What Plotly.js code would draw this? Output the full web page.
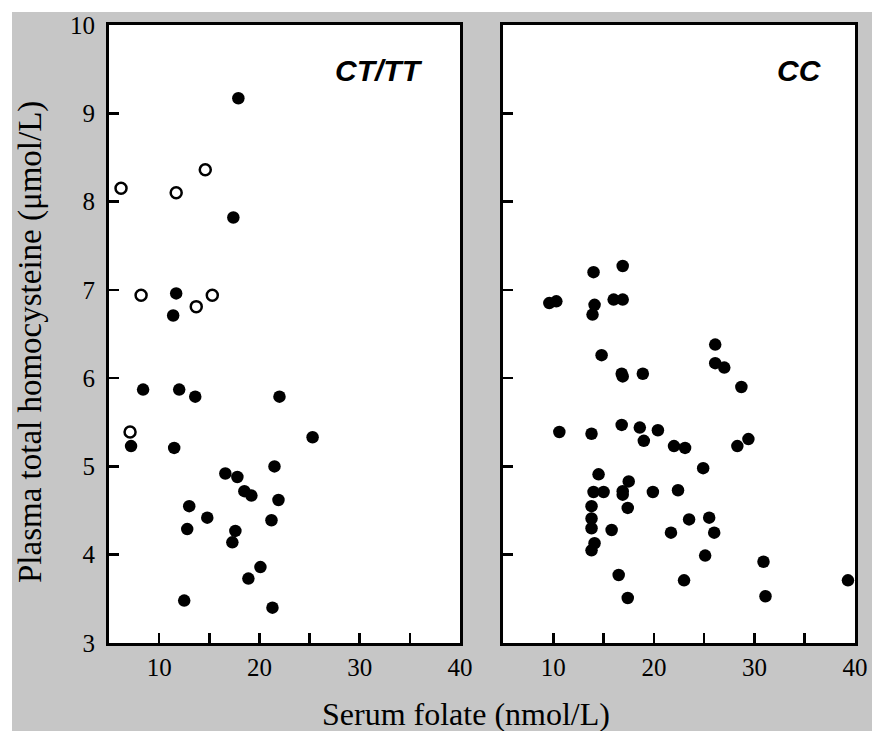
<!DOCTYPE html>
<html>
<head>
<meta charset="utf-8">
<script src="https://cdn.plot.ly/plotly-3.0.1.min.js"></script>
<style>
  html, body { margin: 0; padding: 0; background: #ffffff; width: 872px; height: 731px; overflow: hidden; }
  #bg { position: absolute; left: 12px; top: 12px; width: 860px; height: 719px; background: #c6c6c6; }
  #chart { position: absolute; left: 0px; top: 0px; width: 872px; height: 731px; }
</style>
</head>
<body>
<div id="bg"></div>
<div id="chart"></div>
<script>
// CT/TT panel, filled circles
const ctFilledX = [17.9, 17.4, 11.7, 11.4, 8.4, 12.0, 13.6, 22.0, 7.2, 11.5, 25.3, 21.5, 16.6, 17.8, 18.5, 19.2, 21.9, 13.0, 14.8, 12.8, 21.2, 17.6, 17.3, 20.1, 18.9, 12.5, 21.3];
const ctFilledY = [9.17, 7.82, 6.96, 6.71, 5.87, 5.87, 5.79, 5.79, 5.23, 5.21, 5.33, 5.00, 4.92, 4.88, 4.72, 4.67, 4.62, 4.55, 4.42, 4.29, 4.39, 4.27, 4.14, 3.86, 3.73, 3.48, 3.40];
// CT/TT panel, open circles
const ctOpenX = [6.2, 11.7, 14.6, 8.2, 13.7, 15.3, 7.1];
const ctOpenY = [8.15, 8.10, 8.36, 6.94, 6.81, 6.94, 5.39];
// CC panel
const ccX = [14.0, 16.9, 9.6, 10.3, 14.1, 13.9, 16.0, 16.9, 26.1, 14.8, 26.1, 27.0, 16.8, 16.9, 18.9, 28.7, 10.6, 13.8, 16.8, 18.6, 20.4, 19.0, 22.0, 23.1, 28.3, 29.4, 24.9, 14.5, 17.5, 14.0, 15.0, 16.9, 16.9, 19.9, 22.4, 17.4, 13.8, 13.8, 13.8, 15.8, 23.5, 25.5, 21.7, 26.0, 14.1, 13.8, 25.1, 30.9, 16.5, 23.0, 39.3, 17.4, 31.1];
const ccY = [7.20, 7.27, 6.85, 6.87, 6.83, 6.72, 6.89, 6.89, 6.38, 6.26, 6.17, 6.12, 6.05, 6.02, 6.05, 5.90, 5.39, 5.37, 5.47, 5.44, 5.41, 5.29, 5.23, 5.21, 5.23, 5.31, 4.98, 4.91, 4.83, 4.71, 4.71, 4.72, 4.68, 4.71, 4.73, 4.53, 4.55, 4.41, 4.30, 4.28, 4.40, 4.42, 4.25, 4.25, 4.13, 4.05, 3.99, 3.92, 3.77, 3.71, 3.71, 3.51, 3.53];

const xTickVals = [10, 15, 20, 25, 30, 35, 40];
const xTickText = ['10', '', '20', '', '30', '', '40'];
const yTickVals = [3, 4, 5, 6, 7, 8, 9, 10];
const yTickText = ['3', '4', '5', '6', '7', '8', '9', '10'];
const panelLabels = ['CT/TT', 'CC'];
const xTitle = 'Serum folate (nmol/L)';
const yTitle = 'Plasma total homocysteine (μmol/L)';

const serif = 'Liberation Serif, Times New Roman, serif';
const sans = 'Liberation Sans, Arial, sans-serif';

const traces = [
  { x: ctFilledX, y: ctFilledY, xaxis: 'x', yaxis: 'y', type: 'scatter', mode: 'markers',
    marker: { symbol: 'circle', size: 12.5, color: '#000' }, hoverinfo: 'skip' },
  { x: ctOpenX, y: ctOpenY, xaxis: 'x', yaxis: 'y', type: 'scatter', mode: 'markers',
    marker: { symbol: 'circle-open', size: 11, color: '#000', line: { width: 2.5, color: '#000' } }, hoverinfo: 'skip' },
  { x: ccX, y: ccY, xaxis: 'x2', yaxis: 'y2', type: 'scatter', mode: 'markers',
    marker: { symbol: 'circle', size: 12.5, color: '#000' }, hoverinfo: 'skip' }
];

function xAxis(domain, anchor) {
  return {
    domain: domain, anchor: anchor, range: [5, 40], fixedrange: true,
    showgrid: false, zeroline: false,
    showline: true, mirror: true, linecolor: '#000', linewidth: 3,
    ticks: 'inside', ticklen: 10, tickwidth: 2.5, tickcolor: '#000',
    tickmode: 'array', tickvals: xTickVals, ticktext: xTickText,
    tickfont: { family: serif, size: 25, color: '#000' }
  };
}
function yAxis(anchor, labels) {
  return {
    anchor: anchor, range: [3, 10], domain: [0, 1], fixedrange: true,
    showgrid: false, zeroline: false,
    showline: true, mirror: true, linecolor: '#000', linewidth: 3,
    ticks: 'inside', ticklen: 10, tickwidth: 2.5, tickcolor: '#000',
    tickmode: 'array', tickvals: yTickVals, ticktext: yTickText,
    showticklabels: labels, ticklabelstandoff: 6,
    tickfont: { family: serif, size: 25, color: '#000' }
  };
}

// plot area in page pixels: x 109..855, y 25..643
const layout = {
  width: 872, height: 731,
  margin: { l: 109, r: 17, t: 25, b: 88 },
  paper_bgcolor: 'rgba(0,0,0,0)',
  plot_bgcolor: '#ffffff',
  showlegend: false,
  xaxis: xAxis([0, 0.4705], 'y'),
  yaxis: yAxis('x', true),
  xaxis2: xAxis([0.5282, 1], 'y2'),
  yaxis2: yAxis('x2', false),
  annotations: [
    { text: '<b><i>' + panelLabels[0] + '</i></b>', xref: 'paper', yref: 'paper', x: 0.362, y: 0.9256,
      xanchor: 'center', yanchor: 'middle', showarrow: false, font: { family: sans, size: 30, color: '#000' } },
    { text: '<b><i>' + panelLabels[1] + '</i></b>', xref: 'paper', yref: 'paper', x: 0.926, y: 0.9256,
      xanchor: 'center', yanchor: 'middle', showarrow: false, font: { family: sans, size: 30, color: '#000' } },
    { text: xTitle, xref: 'paper', yref: 'paper', x: 0.4786, y: -0.1149,
      xanchor: 'center', yanchor: 'middle', showarrow: false, font: { family: serif, size: 32, color: '#000' } },
    { text: yTitle, xref: 'paper', yref: 'paper', x: -0.1059, y: 0.487, textangle: -90,
      xanchor: 'center', yanchor: 'middle', showarrow: false, font: { family: serif, size: 33, color: '#000' } }
  ]
};

Plotly.newPlot('chart', traces, layout, { staticPlot: true, displayModeBar: false });
</script>
</body>
</html>
